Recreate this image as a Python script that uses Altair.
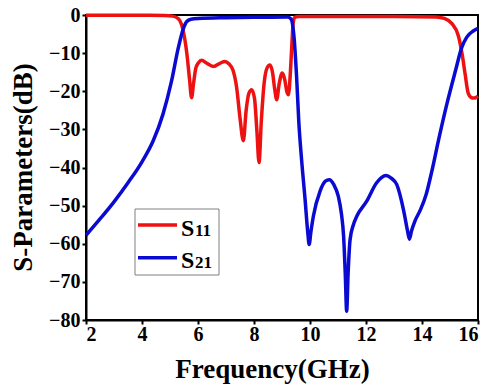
import altair as alt
import pandas as pd

# ---- data ----
series = ["S11", "S21"]
colors = ["#ee1111", "#0a0ad2"]

freq_s11 = [2.0, 3.0, 4.0, 4.8, 5.1, 5.3, 5.45, 5.6, 5.7, 5.77, 5.84, 5.92, 6.02, 6.13,
            6.3, 6.55, 6.8, 6.96, 7.1, 7.25, 7.38, 7.5, 7.62, 7.72, 7.82, 7.92, 8.02,
            8.1, 8.18, 8.26, 8.36, 8.46, 8.57, 8.66, 8.74, 8.81, 8.9, 9.01, 9.1, 9.17,
            9.23, 9.3, 9.35, 9.4, 9.45, 9.6, 11.0, 13.0, 14.5, 14.8, 15.06, 15.3,
            15.45, 15.54, 15.65, 15.75, 15.85, 16.0]
s11_db = [-0.05, -0.05, -0.05, -0.1, -0.3, -1.0, -3.5, -10.0, -17.0, -21.7, -18.0, -14.0,
          -12.5, -11.9, -12.6, -13.5, -12.6, -12.2, -12.8, -14.5, -19.0, -27.0, -33.0,
          -25.0, -20.5, -19.6, -22.0, -30.0, -38.7, -28.0, -18.0, -14.0, -13.1, -15.0,
          -19.5, -22.2, -18.0, -15.2, -17.0, -20.0, -20.9, -15.0, -8.0, -2.0, -0.6,
          -0.4, -0.4, -0.4, -0.5, -0.9, -2.2, -5.5, -11.0, -15.5, -20.5, -21.6, -21.8,
          -21.3]

freq_s21 = [2.0, 2.5, 3.0, 3.5, 4.0, 4.4, 4.75, 5.05, 5.3, 5.48, 5.6, 5.75, 6.0, 7.0,
            8.0, 9.2, 9.32, 9.42, 9.52, 9.6, 9.7, 9.82, 9.92, 9.97, 10.03, 10.12, 10.36,
            10.55, 10.69, 10.85, 11.01, 11.12, 11.2, 11.26, 11.31, 11.36, 11.43, 11.55,
            11.67, 12.02, 12.38, 12.71, 12.9, 13.1, 13.35, 13.48, 13.55, 13.63, 13.75,
            13.95, 14.15, 14.35, 14.6, 14.9, 15.2, 15.42, 15.6, 15.83, 16.0]
s21_db = [-57.8, -53.5, -49.0, -44.0, -38.5, -33.0, -26.0, -17.5, -8.5, -3.5, -1.7, -1.1,
          -0.9, -0.7, -0.6, -0.5, -1.0, -5.0, -16.0, -28.0, -38.0, -48.0, -57.0, -60.2,
          -57.0, -52.8, -46.2, -43.6, -43.2, -44.5, -47.5, -52.0, -58.0, -68.0, -77.7,
          -68.0, -59.0, -55.0, -52.8, -48.9, -44.0, -42.1, -42.8, -44.5, -51.5, -56.5,
          -58.8, -56.5, -54.0, -51.0, -47.0, -41.0, -32.5, -23.0, -14.5, -8.5, -5.8,
          -4.2, -3.5]

x_ticks = [2, 4, 6, 8, 10, 12, 14, 16]
y_ticks = [-80, -70, -60, -50, -40, -30, -20, -10, 0]
legend_main = ["S", "S"]
legend_sub = ["11", "21"]

df = pd.concat([
    pd.DataFrame({"freq": freq_s11, "db": s11_db, "series": series[0]}),
    pd.DataFrame({"freq": freq_s21, "db": s21_db, "series": series[1]}),
])

FONT = "Liberation Serif"
W, H = 392, 305

lines = alt.Chart(df).mark_line(strokeWidth=3.5, interpolate="monotone").encode(
    x=alt.X("freq:Q",
            scale=alt.Scale(domain=[2, 16], nice=False, zero=False),
            axis=alt.Axis(values=x_ticks, title="Frequency(GHz)", format="d",
                          titleX=186, titleY=57, titleBaseline="alphabetic",
                          titleAlign="center", labelPadding=0)),
    y=alt.Y("db:Q",
            scale=alt.Scale(domain=[-80, 0], nice=False, zero=False),
            axis=alt.Axis(values=y_ticks, title="S-Parameters(dB)", format="d",
                          titleX=-63, titleY=152, titleAngle=-90,
                          titleBaseline="middle", titleAlign="center",
                          labelPadding=2)),
    color=alt.Color("series:N", scale=alt.Scale(domain=series, range=colors), legend=None),
)

one = pd.DataFrame({"k": [0]})
box = alt.Chart(one).mark_rect(fill="white", stroke="#808080", strokeWidth=1).encode(
    x=alt.value(49), x2=alt.value(133), y=alt.value(194), y2=alt.value(260)
)

legend_layers = []
for i in range(len(series)):
    ypix = 210 + i * 32.7
    legend_layers.append(
        alt.Chart(one).mark_rule(color=colors[i], strokeWidth=3.5).encode(
            x=alt.value(52), x2=alt.value(91), y=alt.value(ypix)))
    legend_layers.append(
        alt.Chart(one).mark_text(text=legend_main[i], font=FONT, fontSize=24,
                                 fontWeight="bold", align="left",
                                 baseline="alphabetic", color="black").encode(
            x=alt.value(95), y=alt.value(ypix + 10.5)))
    legend_layers.append(
        alt.Chart(one).mark_text(text=legend_sub[i], font=FONT, fontSize=17,
                                 fontWeight="bold", align="left",
                                 baseline="alphabetic", color="black").encode(
            x=alt.value(109), y=alt.value(ypix + 10.5)))

chart = alt.layer(lines, box, *legend_layers).properties(
    width=W, height=H,
    padding={"left": 86, "top": 15, "right": 11, "bottom": 65},
    autosize=alt.AutoSizeParams(type="none"),
    background="white",
).configure_view(
    stroke="black", strokeWidth=2
).configure_axis(
    labelFont=FONT, labelFontSize=20, labelFontWeight="bold", labelColor="black",
    titleFont=FONT, titleFontSize=27, titleFontWeight="bold", titleColor="black",
    domainColor="black", domainWidth=2, tickColor="black", tickWidth=2, tickSize=4,
    grid=False,
)

chart.save("out.html", embed_options={"renderer": "svg", "actions": False})
